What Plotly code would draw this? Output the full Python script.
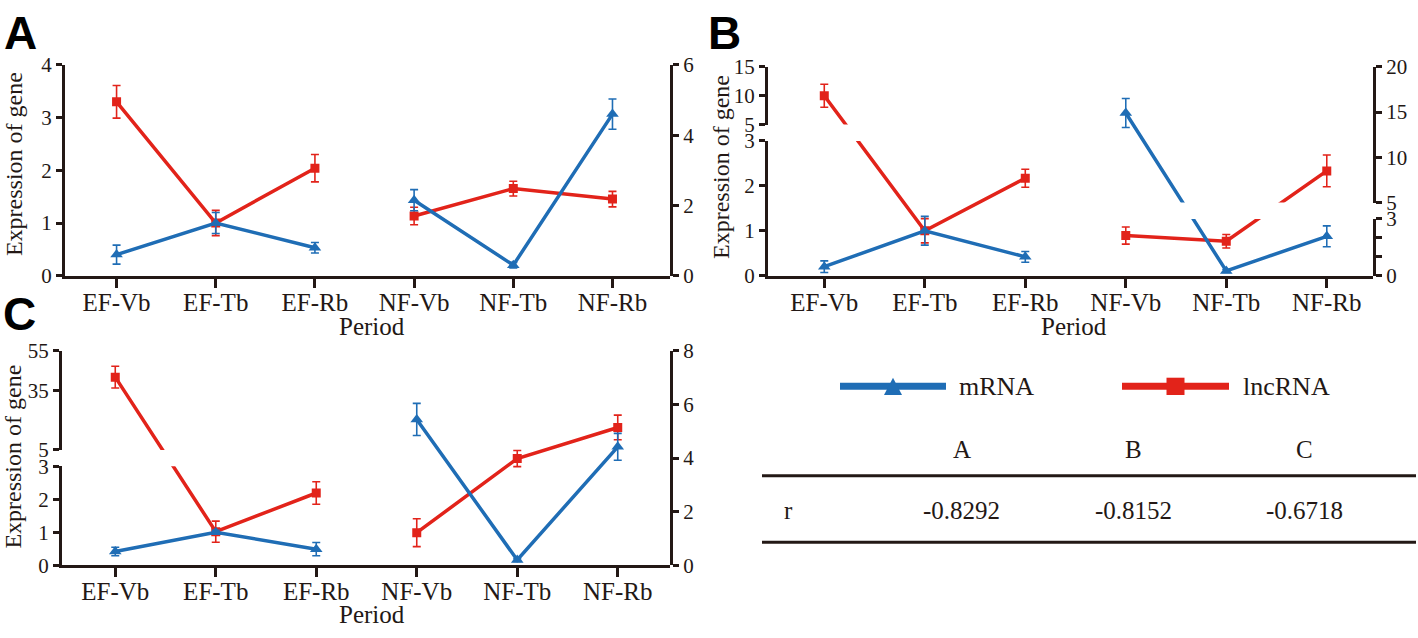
import plotly.graph_objects as go

# ---------------- data ----------------
categories = ["EF-Vb", "EF-Tb", "EF-Rb", "NF-Vb", "NF-Tb", "NF-Rb"]

# Panel A
A_mrna = [0.40, 1.00, 0.53, 2.15, 0.30, 4.60]
A_mrna_err = [0.18, 0.20, 0.10, 0.30, 0.08, 0.43]
A_lnc = [3.30, 1.00, 2.04, 1.70, 2.48, 2.18]
A_lnc_err = [0.31, 0.24, 0.26, 0.25, 0.21, 0.22]

# Panel B
B_mrna = [0.20, 1.00, 0.42, 14.9, 0.25, 2.08]
B_mrna_err = [0.13, 0.32, 0.12, 1.6, 0.08, 0.55]
B_lnc = [10.0, 1.00, 2.17, 2.12, 1.82, 8.5]
B_lnc_err = [2.0, 0.27, 0.20, 0.45, 0.36, 1.75]

# Panel C
C_mrna = [0.42, 1.00, 0.49, 5.44, 0.20, 4.42]
C_mrna_err = [0.13, 0.06, 0.20, 0.60, 0.05, 0.50]
C_lnc = [41.7, 1.02, 2.19, 1.22, 3.98, 5.14]
C_lnc_err = [5.5, 0.32, 0.34, 0.52, 0.30, 0.46]

# tick labels
A_left_ticks = [0, 1, 2, 3, 4]
A_right_ticks = [0, 2, 4, 6]
B_left_low_ticks = [0, 1, 2, 3]
B_left_up_ticks = [5, 10, 15]
B_right_low_ticks = [0, 1, 2, 3]
B_right_low_labels = ["0", "", "", "3"]
B_right_up_ticks = [5, 10, 15, 20]
C_left_low_ticks = [0, 1, 2, 3]
C_left_up_ticks = [5, 35, 55]
C_right_ticks = [0, 2, 4, 6, 8]

series_names = ["mRNA", "lncRNA"]
table_cols = ["A", "B", "C"]
r_values = [-0.8292, -0.8152, -0.6718]

# ---------------- style ----------------
W, H = 1418, 638
INK = "#231815"
BLUE = "#1F6DB5"
RED = "#E2231A"
SERIF = "Liberation Serif"
SANS = "Liberation Sans"


def px_x(px):
    return px / W


def px_y(py):
    return 1 - py / H


def seg_map(v, segs):
    """piecewise-linear value -> fraction of plot height (broken axis)"""
    for s in segs:
        vlo, vhi = s["v"]
        flo, fhi = s["f"]
        if vlo <= v <= vhi:
            return flo + (v - vlo) / (vhi - vlo) * (fhi - flo)
    first, last = segs[0], segs[-1]
    if v < first["v"][0]:
        s = first
    elif v > last["v"][1]:
        s = last
    else:
        for a, b in zip(segs[:-1], segs[1:]):
            if a["v"][1] < v < b["v"][0]:
                return a["f"][1] + (v - a["v"][1]) / (b["v"][0] - a["v"][1]) * (b["f"][0] - a["f"][1])
        s = last
    vlo, vhi = s["v"]
    flo, fhi = s["f"]
    return flo + (v - vlo) / (vhi - vlo) * (fhi - flo)


fig = go.Figure()
layout = {}
ycount = [0]


def axname(prefix, i):
    return prefix if i == 1 else f"{prefix}{i}"


def panel(xi, xdom, ydom, xrange, left_segs, right_segs, mrna, mrna_err, lnc, lnc_err):
    xname = axname("x", xi)
    side_axes = {}
    for side, segs in (("left", left_segs), ("right", right_segs)):
        names = []
        for s in segs:
            ycount[0] += 1
            yi = ycount[0]
            flo, fhi = s["f"]
            labels = s.get("labels", [str(t) for t in s["ticks"]])
            layout[axname("yaxis", yi)] = dict(
                domain=[ydom[0] + flo * (ydom[1] - ydom[0]), ydom[0] + fhi * (ydom[1] - ydom[0])],
                range=[flo, fhi], anchor=xname, side=side,
                tickmode="array", tickvals=[seg_map(t, segs) for t in s["ticks"]], ticktext=labels,
                showline=True, linewidth=3, linecolor=INK, ticks="outside", ticklen=6,
                tickwidth=3, tickcolor=INK, showgrid=False, zeroline=False,
                tickfont=dict(family=SERIF, size=21, color=INK), fixedrange=True,
            )
            names.append(axname("y", yi))
        side_axes[side] = (names, segs)

    layout[axname("xaxis", xi)] = dict(
        domain=list(xdom), range=list(xrange), anchor=side_axes["left"][0][0],
        tickmode="array", tickvals=list(range(len(categories))), ticktext=categories,
        showline=True, linewidth=3, linecolor=INK, ticks="outside", ticklen=9,
        tickwidth=3, tickcolor=INK, showgrid=False, zeroline=False, ticklabelstandoff=-7,
        tickfont=dict(family=SERIF, size=25, color=INK), fixedrange=True,
    )

    for side, idxs in (("left", [0, 1, 2]), ("right", [3, 4, 5])):
        names, segs = side_axes[side]
        for vals, errs, color, sym, size in ((lnc, lnc_err, RED, "square", 9),
                                             (mrna, mrna_err, BLUE, "triangle-up", 11)):
            v = [vals[i] for i in idxs]
            e = [errs[i] for i in idxs]
            t = [seg_map(a, segs) for a in v]
            up = [seg_map(a + b, segs) - c for a, b, c in zip(v, e, t)]
            dn = [c - seg_map(a - b, segs) for a, b, c in zip(v, e, t)]
            for yn in names:
                fig.add_trace(go.Scatter(
                    x=idxs, y=t, xaxis=xname, yaxis=yn, mode="lines+markers",
                    line=dict(color=color, width=3.5),
                    marker=dict(symbol=sym, size=size, color=color),
                    error_y=dict(type="data", symmetric=False, array=up, arrayminus=dn,
                                 color=color, thickness=1.6, width=4),
                    showlegend=False, hoverinfo="skip",
                ))


# Panel A
panel(1, (px_x(65), px_x(670)), (px_y(274), px_y(55)), (-0.52, 5.58),
      [dict(v=(0, 4), f=(0, 1), ticks=A_left_ticks)],
      [dict(v=(0, 6), f=(0, 1), ticks=A_right_ticks)],
      A_mrna, A_mrna_err, A_lnc, A_lnc_err)

# Panel B (broken axes)
HB = 274 - 57
panel(2, (px_x(768), px_x(1373)), (px_y(274), px_y(57)), (-0.56, 5.46),
      [dict(v=(0, 3), f=(0, (274 - 134) / HB), ticks=B_left_low_ticks),
       dict(v=(5, 15), f=((274 - 117) / HB, 1), ticks=B_left_up_ticks)],
      [dict(v=(0, 3), f=(0, (274 - 215) / HB), ticks=B_right_low_ticks, labels=B_right_low_labels),
       dict(v=(5, 20), f=((274 - 198) / HB, 1), ticks=B_right_up_ticks)],
      B_mrna, B_mrna_err, B_lnc, B_lnc_err)

# Panel C (broken left axis)
HC = 575 - 352
panel(3, (px_x(62), px_x(670)), (px_y(575), px_y(352)), (-0.53, 5.52),
      [dict(v=(0, 3), f=(0, (575 - 472) / HC), ticks=C_left_low_ticks),
       dict(v=(5, 55), f=((575 - 455) / HC, 1), ticks=C_left_up_ticks)],
      [dict(v=(0, 8), f=(0, 1), ticks=C_right_ticks)],
      C_mrna, C_mrna_err, C_lnc, C_lnc_err)

annotations = []
shapes = []

# panel letters
for letter, x, y in (("A", 2, 22), ("B", 706, 22), ("C", 1, 314)):
    annotations.append(dict(text=letter, x=px_x(x), y=px_y(y), xref="paper", yref="paper",
                            xanchor="left", yanchor="middle", showarrow=False,
                            font=dict(family=SANS, size=46, color="#000000", weight="bold")))

# axis titles
for x, y in ((14, 158), (721, 161), (13, 462)):
    annotations.append(dict(text="Expression of gene", x=px_x(x), y=px_y(y), xref="paper", yref="paper",
                            textangle=-90, xanchor="center", yanchor="middle", showarrow=False,
                            font=dict(family=SERIF, size=24, color=INK)))
for x, y in ((372, 327), (1074, 327), (372, 626)):
    annotations.append(dict(text="Period", x=px_x(x), y=px_y(y), xref="paper", yref="paper",
                            xanchor="center", yanchor="middle", showarrow=False,
                            font=dict(family=SERIF, size=25, color=INK)))

# legend
leg_y = 389
for name, color, x0, x1, xt in ((series_names[0], BLUE, 840, 946, 957),
                                (series_names[1], RED, 1122, 1229, 1241)):
    shapes.append(dict(type="line", xref="paper", yref="paper", x0=px_x(x0), x1=px_x(x1),
                       y0=px_y(leg_y), y1=px_y(leg_y), line=dict(color=color, width=7)))
    annotations.append(dict(text=name, x=px_x(xt), y=px_y(leg_y), xref="paper", yref="paper",
                            xanchor="left", yanchor="middle", showarrow=False,
                            font=dict(family=SERIF, size=26, color=INK)))
xc = (840 + 946) / 2
shapes.append(dict(type="path", xref="paper", yref="paper",
                   path=f"M {px_x(xc-9)} {px_y(398)} L {px_x(xc+9)} {px_y(398)} L {px_x(xc)} {px_y(380)} Z",
                   fillcolor=BLUE, line=dict(width=0)))
xc2 = (1122 + 1229) / 2
shapes.append(dict(type="rect", xref="paper", yref="paper", x0=px_x(xc2 - 9), x1=px_x(xc2 + 9),
                   y0=px_y(398), y1=px_y(380), fillcolor=RED, line=dict(width=0)))

# table
col_x = [962, 1133, 1304]
for name, x in zip(table_cols, col_x):
    annotations.append(dict(text=name, x=px_x(x), y=px_y(455), xref="paper", yref="paper",
                            xanchor="center", yanchor="middle", showarrow=False,
                            font=dict(family=SERIF, size=25, color=INK)))
annotations.append(dict(text="r", x=px_x(788), y=px_y(518), xref="paper", yref="paper",
                        xanchor="center", yanchor="middle", showarrow=False,
                        font=dict(family=SERIF, size=25, color=INK)))
for val, x in zip(r_values, col_x):
    annotations.append(dict(text=f"{val:.4f}", x=px_x(x), y=px_y(518), xref="paper", yref="paper",
                            xanchor="center", yanchor="middle", showarrow=False,
                            font=dict(family=SERIF, size=25, color=INK)))
for y in (482, 551):
    shapes.append(dict(type="line", xref="paper", yref="paper", x0=px_x(762), x1=px_x(1416),
                       y0=px_y(y), y1=px_y(y), line=dict(color=INK, width=3)))

fig.update_layout(
    width=W, height=H, margin=dict(l=0, r=0, t=0, b=0),
    paper_bgcolor="white", plot_bgcolor="rgba(0,0,0,0)",
    showlegend=False, annotations=annotations, shapes=shapes,
    **layout,
)

fig.write_html("out.html", config={"displayModeBar": False, "staticPlot": True},
               post_script="document.body.style.margin='0px';document.body.style.overflow='hidden';")
